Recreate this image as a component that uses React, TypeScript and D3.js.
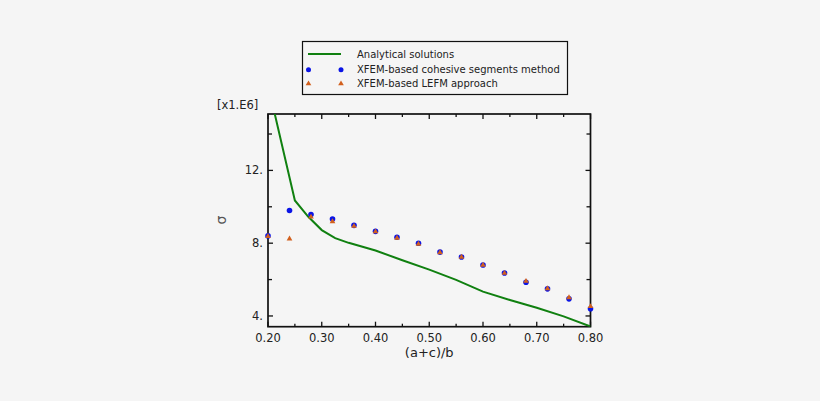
import React, { useEffect, useRef } from 'react';
import * as d3 from 'd3';

const pointX = [0.2, 0.24, 0.28, 0.32, 0.36, 0.4, 0.44, 0.48, 0.52, 0.56, 0.6, 0.64, 0.68, 0.72, 0.76, 0.8];
const cohesive = [8.4, 9.8, 9.58, 9.33, 8.98, 8.65, 8.33, 8.0, 7.51, 7.24, 6.8, 6.36, 5.85, 5.49, 4.94, 4.4];
const lefm = [8.4, 8.27, 9.47, 9.22, 8.96, 8.66, 8.31, 7.98, 7.51, 7.26, 6.82, 6.38, 5.94, 5.53, 5.04, 4.55];

const analyticX = [0.2, 0.25, 0.275, 0.3, 0.325, 0.35, 0.4, 0.45, 0.5, 0.55, 0.6, 0.65, 0.7, 0.75, 0.8];
const analytic = [16.7, 10.35, 9.45, 8.72, 8.28, 8.02, 7.6, 7.06, 6.55, 5.98, 5.34, 4.88, 4.45, 3.98, 3.42];

const xMajor = [0.2, 0.3, 0.4, 0.5, 0.6, 0.7, 0.8];
const xMinor = [0.25, 0.35, 0.45, 0.55, 0.65, 0.75];
const yMajor = [4, 8, 12];
const yMinor = [6, 10, 14];

const legendItems = ['Analytical solutions', 'XFEM-based cohesive segments method', 'XFEM-based LEFM approach'];

const FONT = '"DejaVu Sans", Verdana, sans-serif';

const App: React.FC = () => {
  const svgRef = useRef<SVGSVGElement>(null);

  useEffect(() => {
    if (!svgRef.current) return;
    const svg = d3.select(svgRef.current);
    svg.selectAll('*').remove();

    const width = 820;
    const height = 401;
    svg.attr('width', width).attr('height', height);

    svg.append('rect').attr('width', width).attr('height', height).attr('fill', '#f5f5f5');

    const left = 268;
    const right = 590.5;
    const top = 114;
    const bottom = 326.7;

    const x = d3.scaleLinear().domain([0.2, 0.8]).range([left, right]);
    const y = d3.scaleLinear().domain([3.41, 15.1]).range([bottom, top]);

    svg
      .append('clipPath')
      .attr('id', 'plot-clip')
      .append('rect')
      .attr('x', left)
      .attr('y', top)
      .attr('width', right - left)
      .attr('height', bottom - top);

    // frame
    svg
      .append('rect')
      .attr('x', left)
      .attr('y', top)
      .attr('width', right - left)
      .attr('height', bottom - top)
      .attr('fill', 'none')
      .attr('stroke', '#111')
      .attr('stroke-width', 1.7);

    const g = svg.append('g').attr('stroke', '#111').attr('stroke-width', 1.3);

    // x ticks (bottom and top, pointing inside)
    xMajor.forEach((v) => {
      g.append('line').attr('x1', x(v)).attr('x2', x(v)).attr('y1', bottom).attr('y2', bottom - 5);
      g.append('line').attr('x1', x(v)).attr('x2', x(v)).attr('y1', top).attr('y2', top + 5);
    });
    xMinor.forEach((v) => {
      g.append('line').attr('x1', x(v)).attr('x2', x(v)).attr('y1', bottom).attr('y2', bottom - 3);
      g.append('line').attr('x1', x(v)).attr('x2', x(v)).attr('y1', top).attr('y2', top + 3);
    });
    // y ticks (left and right)
    yMajor.forEach((v) => {
      g.append('line').attr('x1', left).attr('x2', left + 5).attr('y1', y(v)).attr('y2', y(v));
      g.append('line').attr('x1', right).attr('x2', right - 5).attr('y1', y(v)).attr('y2', y(v));
    });
    yMinor.forEach((v) => {
      g.append('line').attr('x1', left).attr('x2', left + 4).attr('y1', y(v)).attr('y2', y(v));
      g.append('line').attr('x1', right).attr('x2', right - 4).attr('y1', y(v)).attr('y2', y(v));
    });

    const labels = svg.append('g').attr('font-family', FONT).attr('font-size', 11.5).attr('fill', '#222');

    xMajor.forEach((v) => {
      labels
        .append('text')
        .attr('x', x(v))
        .attr('y', bottom + 15)
        .attr('text-anchor', 'middle')
        .text(v.toFixed(2));
    });
    yMajor.forEach((v) => {
      labels
        .append('text')
        .attr('x', left - 5)
        .attr('y', y(v) + 4)
        .attr('text-anchor', 'end')
        .text(`${v}.`);
    });
    labels.append('text').attr('x', 217).attr('y', 109).text('[x1.E6]');
    labels
      .append('text')
      .attr('x', (left + right) / 2)
      .attr('y', 357)
      .attr('text-anchor', 'middle')
      .attr('font-size', 13)
      .text('(a+c)/b');
    labels
      .append('text')
      .attr('transform', 'translate(226,220) rotate(-90)')
      .attr('text-anchor', 'middle')
      .attr('font-size', 14)
      .attr('fill', '#555')
      .text('σ');

    const plot = svg.append('g').attr('clip-path', 'url(#plot-clip)');

    const line = d3
      .line<number>()
      .x((_, i) => x(analyticX[i]))
      .y((d) => y(d));

    plot
      .append('path')
      .datum(analytic)
      .attr('fill', 'none')
      .attr('stroke', '#108010')
      .attr('stroke-width', 2)
      .attr('d', line as any);

    const tri = d3.symbol().type(d3.symbolTriangle).size(14);

    svg
      .append('g')
      .selectAll('circle')
      .data(cohesive)
      .enter()
      .append('circle')
      .attr('cx', (_, i) => x(pointX[i]))
      .attr('cy', (d) => y(d))
      .attr('r', 2.8)
      .attr('fill', '#0a14e6');

    svg
      .append('g')
      .selectAll('path')
      .data(lefm)
      .enter()
      .append('path')
      .attr('d', tri as any)
      .attr('transform', (d, i) => `translate(${x(pointX[i])},${y(d) + 0.5})`)
      .attr('fill', '#d2601e');

    // legend
    const lg = svg.append('g');
    lg.append('rect')
      .attr('x', 302.5)
      .attr('y', 41.5)
      .attr('width', 265)
      .attr('height', 53)
      .attr('fill', '#f5f5f5')
      .attr('stroke', '#111')
      .attr('stroke-width', 1.2);
    const rowY = [54, 69.7, 83.7];
    lg.append('line')
      .attr('x1', 308)
      .attr('x2', 341)
      .attr('y1', rowY[0])
      .attr('y2', rowY[0])
      .attr('stroke', '#108010')
      .attr('stroke-width', 2);
    [308.5, 341].forEach((px) => {
      lg.append('circle').attr('cx', px).attr('cy', rowY[1]).attr('r', 2.5).attr('fill', '#0a14e6');
      lg.append('path')
        .attr('d', tri as any)
        .attr('transform', `translate(${px},${rowY[2]})`)
        .attr('fill', '#d2601e');
    });
    legendItems.forEach((t, i) => {
      lg.append('text')
        .attr('x', 357)
        .attr('y', rowY[i] + 3.5)
        .attr('font-family', FONT)
        .attr('font-size', 10)
        .attr('fill', '#222')
        .text(t);
    });
  }, []);

  return (
    <div style={{ position: 'fixed', left: 0, top: 0 }}>
      <svg ref={svgRef}></svg>
    </div>
  );
};

export default App;
